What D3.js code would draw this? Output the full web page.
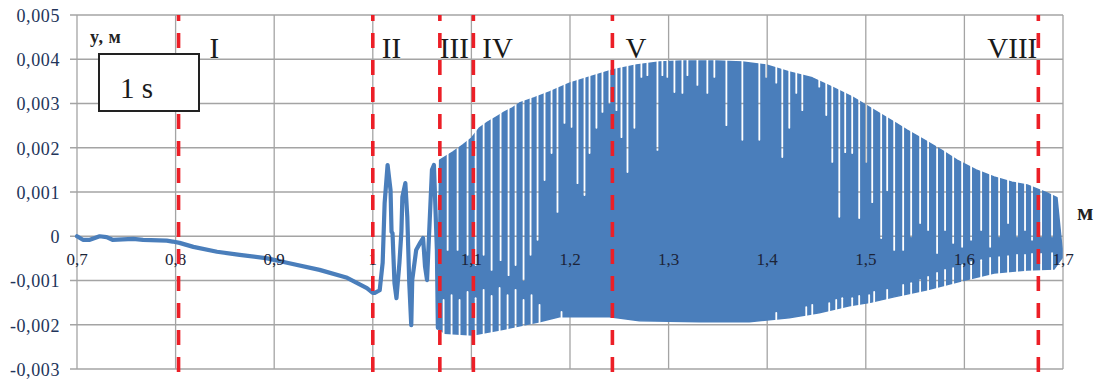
<!DOCTYPE html>
<html>
<head>
<meta charset="utf-8">
<script src="https://cdnjs.cloudflare.com/ajax/libs/d3/7.8.5/d3.min.js"></script>
<style>
	body { margin: 0; background: #fff; }
	text { font-family: "Liberation Serif", "Times New Roman", serif; }
</style>
</head>
<body>
<div id="chart"></div>
<script>

// axis ticks
const xTicks = [0.7, 0.8, 0.9, 1.0, 1.1, 1.2, 1.3, 1.4, 1.5, 1.6, 1.7]
const xTickLabels = ["0,7", "0,8", "0,9", "1", "1,1", "1,2", "1,3", "1,4", "1,5", "1,6", "1,7"]
const yTicks = [-0.003, -0.002, -0.001, 0, 0.001, 0.002, 0.003, 0.004, 0.005]
const yTickLabels = ["-0,003", "-0,002", "-0,001", "0", "0,001", "0,002", "0,003", "0,004", "0,005"]

// stage boundaries (red dashed lines)
const stageX = [0.803, 1.0, 1.068, 1.102, 1.243, 1.675]
const stageNames = ["I", "II", "III", "IV", "V", "VIII"]

// slow part of the signal, drawn as a line
const lineX = [0.700, 0.706, 0.713, 0.723, 0.730, 0.736, 0.757, 0.767, 0.791, 0.797, 0.804, 0.818, 0.842, 0.865, 0.893, 0.913, 0.946, 0.974, 0.994, 1.000,
	1.002, 1.007, 1.010, 1.012, 1.015, 1.018, 1.019, 1.020, 1.022, 1.024, 1.027, 1.029, 1.030, 1.033, 1.035, 1.037, 1.039, 1.040, 1.044, 1.048,
	1.051, 1.053, 1.055, 1.057, 1.060, 1.062, 1.065, 1.066]
const lineV = [0, -0.00008, -0.00008, 0, -0.00002, -0.00008, -0.00006, -0.00008, -0.0001, -0.00012, -0.00015, -0.00024, -0.00035, -0.00042, -0.0005, -0.0006, -0.00076, -0.00094, -0.00117, -0.00128,
	-0.00128, -0.00122, -0.0006, 0.00075, 0.00161, 0.00104, 0.0001, 0.00007, -0.00106, -0.0014, -0.0006, 0.0001, 0.00089, 0.0012, 0.00043, -0.00106, -0.00201, -0.00099, -0.00031, -0.00015,
	-0.00004, -0.00069, -0.00099, 0, 0.0015, 0.00161, -0.00031, -0.00207]

// dense oscillation: upper envelope
const bandTopX = [1.0678, 1.0810, 1.0911, 1.1002, 1.1083, 1.1164, 1.1255, 1.1336, 1.1417, 1.1488, 1.1640, 1.1792, 1.1995, 1.2198, 1.2431, 1.2674, 1.2907, 1.3140, 1.3484,
	1.3748, 1.3991, 1.4224, 1.4457, 1.4660, 1.4862, 1.5085, 1.5288, 1.5419, 1.5592, 1.5764, 1.5926, 1.6119, 1.6301, 1.6483, 1.6636, 1.6838, 1.6939, 1.6990]
const bandTopV = [0.00172, 0.0019, 0.00206, 0.00222, 0.00245, 0.00258, 0.0027, 0.00281, 0.0029, 0.00301, 0.00313, 0.00326, 0.00346, 0.0036, 0.00376, 0.00387, 0.00394, 0.00396, 0.00396,
	0.00394, 0.00387, 0.00371, 0.00358, 0.00337, 0.00315, 0.00285, 0.00258, 0.0024, 0.00218, 0.00195, 0.00172, 0.0015, 0.00134, 0.00122, 0.00116, 0.00098, 0.00087, -0.00028]

// dense oscillation: lower envelope
const bandBotX = [1.0658, 1.0729, 1.1012, 1.1286, 1.1691, 1.1894, 1.2400, 1.2704, 1.3312, 1.3819, 1.4224, 1.4528, 1.4832, 1.5034, 1.5288, 1.5622, 1.5967, 1.6301, 1.6636, 1.6909, 1.6990]
const bandBotV = [-0.00207, -0.00219, -0.00223, -0.00212, -0.00193, -0.00182, -0.00182, -0.00191, -0.00193, -0.00193, -0.00184, -0.00173, -0.00157, -0.0015, -0.00137, -0.00121, -0.00101, -0.00083, -0.00076, -0.00074, -0.00049]

// white gaps between peaks (x, lowest value the gap reaches)
const gapX = [1.0759, 1.0860, 1.0961, 1.1043, 1.1124, 1.1205, 1.1296, 1.1377, 1.1448, 1.1529, 1.1600, 1.1671,
	1.1742, 1.1813, 1.1873, 1.1944, 1.2015, 1.2076, 1.2147, 1.2198, 1.2268, 1.2329, 1.2400, 1.2471, 1.2522, 1.2583, 1.2653, 1.2724, 1.2785, 1.2887, 1.2937, 1.2988, 1.3059, 1.3140, 1.3191, 1.3292, 1.3393, 1.3464,
	1.3586, 1.3748, 1.3920, 1.3991, 1.4092, 1.4153, 1.4224, 1.4295, 1.4356, 1.4528, 1.4599, 1.4660, 1.4731, 1.4791, 1.4862, 1.4933, 1.5004, 1.5065, 1.5156, 1.5217,
	1.5288, 1.5379, 1.5460, 1.5551, 1.5632, 1.5723, 1.5804, 1.5886, 1.5977, 1.6068, 1.6170, 1.6261, 1.6352, 1.6443, 1.6534, 1.6615, 1.6686, 1.6778, 1.6889]
const gapV = [-0.00031, -0.00031, -0.00042, -0.00065, -0.00042, -0.00076, -0.00054, -0.00088, -0.00065, -0.00099, -0.00042, -0.00008,
	0.00127, 0.00188, 0.00055, 0.00256, 0.00247, 0.0012, 0.00093, 0.00188, 0.00245, 0.00281, 0.00301, 0.00285, 0.00224, 0.00145, 0.00245, 0.0036, 0.00364, 0.00195, 0.00364, 0.0036, 0.00326, 0.00324, 0.00364, 0.00342, 0.00324, 0.0036,
	0.00251, 0.00218, 0.00218, 0.0036, 0.00347, 0.00179, 0.00245, 0.00324, 0.00285, 0.00338, 0.00274, 0.00168, 0.00044, 0.0019, 0.00188, 0.00041, 0.00168, 0.00077, -0.00004, 0.00104,
	-0.00031, -0.00031, 0, 0.0003, 0.00014, -0.00038, 0.00014, -0.00015, -0.00024, -0.00008, 0.00014, -0.00024, 0, 0.0003, 0, 0.00014, -0.00008, 0, 0]

// white notches between troughs (x, highest value the notch reaches)
const notchX = [1.0718, 1.0799, 1.0880, 1.0961, 1.1043, 1.1124, 1.1205, 1.1286, 1.1367, 1.1448, 1.1529, 1.1610, 1.1691,
	1.1914, 1.4092, 1.4396, 1.4457, 1.4629, 1.4700, 1.4761, 1.4862, 1.4933, 1.5034, 1.5085, 1.5217,
	1.5379, 1.5460, 1.5551, 1.5632, 1.5723, 1.5804, 1.5886, 1.5977, 1.6068, 1.6170, 1.6261, 1.6352, 1.6443, 1.6534, 1.6615, 1.6686, 1.6778, 1.6889]
const notchV = [-0.00144, -0.00133, -0.00144, -0.00126, -0.0014, -0.00121, -0.00135, -0.00117, -0.00133, -0.00121, -0.00144, -0.00133, -0.00155,
	-0.00171, -0.00173, -0.0016, -0.00155, -0.00151, -0.00144, -0.0014, -0.0014, -0.00135, -0.00133, -0.00126, -0.00121,
	-0.0011, -0.00106, -0.00099, -0.00092, -0.00083, -0.00076, -0.00072, -0.00065, -0.00058, -0.00054, -0.00049, -0.00047, -0.00045, -0.00042, -0.00042, -0.0004, -0.0004, -0.00038]

const width = 1101, height = 383
const blue = '#4a7ebb', red = '#ec1f27', grid = '#a4a4a4'
// label offsets from each red line (px)
const stageDx = [31, 9, 0, 9, 13, -51]

const x = d3.scaleLinear().domain([0.7, 1.7]).range([77, 1063])
const y = d3.scaleLinear().domain([-0.003, 0.005]).range([369, 15])

const svg = d3.select('#chart').append('svg')
	.attr('width', width)
	.attr('height', height)
	.style('display', 'block')

// gridlines
svg.append('g')
	.selectAll('line')
	.data(yTicks)
	.enter()
	.append('line')
		.attr('x1', x(0.7) - 7)
		.attr('x2', x(1.7))
		.attr('y1', d => y(d))
		.attr('y2', d => y(d))
		.attr('stroke', grid)
		.attr('stroke-width', 1.3)
svg.append('g')
	.selectAll('line')
	.data(xTicks)
	.enter()
	.append('line')
		.attr('x1', d => x(d))
		.attr('x2', d => x(d))
		.attr('y1', y(0.005))
		.attr('y2', y(-0.003))
		.attr('stroke', grid)
		.attr('stroke-width', 1.3)

// y tick labels
const yAxis = svg.append('g')
	.attr('transform', 'translate(' + x(0.7) + ',0)')
	.call(d3.axisLeft(y).tickValues(yTicks).tickSize(0).tickPadding(17)
		.tickFormat((d, i) => yTickLabels[i]))
yAxis.select('.domain').remove()
yAxis.selectAll('text')
	.attr('dy', '0.36em')
	.style('font-family', '"Liberation Serif", serif')
	.style('font-size', '18px')
	.style('letter-spacing', '0.6px')
	.attr('fill', '#22345a')

// mask that cuts the white gaps out of the dense band
const mask = svg.append('defs').append('mask')
	.attr('id', 'gaps')
	.attr('maskUnits', 'userSpaceOnUse')
	.attr('x', 0).attr('y', 0).attr('width', width).attr('height', height)
mask.append('rect')
	.attr('width', width)
	.attr('height', height)
	.attr('fill', '#fff')
mask.selectAll('line.gap')
	.data(d3.zip(gapX, gapV))
	.enter()
	.append('line')
		.attr('class', 'gap')
		.attr('x1', d => x(d[0]))
		.attr('x2', d => x(d[0]))
		.attr('y1', y(0.005))
		.attr('y2', d => y(d[1]))
		.attr('stroke', '#000')
		.attr('stroke-width', 1.8)
		.attr('stroke-linecap', 'round')
mask.selectAll('line.notch')
	.data(d3.zip(notchX, notchV))
	.enter()
	.append('line')
		.attr('class', 'notch')
		.attr('x1', d => x(d[0]))
		.attr('x2', d => x(d[0]))
		.attr('y1', y(-0.003))
		.attr('y2', d => y(d[1]))
		.attr('stroke', '#000')
		.attr('stroke-width', 1.8)
		.attr('stroke-linecap', 'round')

const line = d3.line().x(d => x(d[0])).y(d => y(d[1]))

// signal
svg.append('path')
	.attr('d', line(d3.zip(lineX, lineV)))
	.attr('fill', 'none')
	.attr('stroke', blue)
	.attr('stroke-width', 4.2)
	.attr('stroke-linejoin', 'round')
	.attr('stroke-linecap', 'round')

const bandPts = d3.zip(bandTopX, bandTopV).concat(d3.zip(bandBotX, bandBotV).reverse())
svg.append('g')
	.attr('mask', 'url(#gaps)')
	.append('path')
		.attr('d', line(bandPts) + 'Z')
		.attr('fill', blue)
		.attr('stroke', blue)
		.attr('stroke-width', 1.5)
		.attr('stroke-linejoin', 'round')

// x tick labels, sitting on the zero line
svg.append('g')
	.selectAll('text')
	.data(xTicks)
	.enter()
	.append('text')
		.attr('x', d => x(d))
		.attr('y', y(0) + 29)
		.attr('text-anchor', 'middle')
		.style('font-size', '17px')
		.attr('fill', '#1c2438')
		.text((d, i) => xTickLabels[i])

// stage names
svg.append('g')
	.selectAll('text')
	.data(stageX)
	.enter()
	.append('text')
		.attr('x', (d, i) => x(d) + stageDx[i])
		.attr('y', y(0.004) - 1)
		.style('font-size', '29px')
		.attr('fill', '#1a1a1a')
		.text((d, i) => stageNames[i])

// red dashed stage lines
svg.append('g')
	.selectAll('line')
	.data(stageX)
	.enter()
	.append('line')
		.attr('x1', d => x(d))
		.attr('x2', d => x(d))
		.attr('y1', y(0.005))
		.attr('y2', height)
		.attr('stroke', red)
		.attr('stroke-width', 3.6)
		.attr('stroke-dasharray', '15,12')
		.attr('stroke-dashoffset', 9)

// axis titles
svg.append('text')
	.attr('x', 90)
	.attr('y', 43)
	.style('font-size', '18px')
	.style('font-weight', 'bold')
	.style('letter-spacing', '0.5px')
	.attr('fill', '#222')
	.text('y, м')
svg.append('text')
	.attr('x', 1077)
	.attr('y', 220)
	.style('font-size', '24px')
	.style('font-weight', 'bold')
	.attr('fill', '#222')
	.text('м')

// "1 s" box
svg.append('rect')
	.attr('x', 99)
	.attr('y', 54)
	.attr('width', 100)
	.attr('height', 57)
	.attr('fill', '#fff')
	.attr('stroke', '#222')
	.attr('stroke-width', 2)
svg.append('text')
	.attr('x', 120)
	.attr('y', 98)
	.style('font-size', '29px')
	.attr('fill', '#1a1a1a')
	.text('1 s')

</script>
</body>
</html>
